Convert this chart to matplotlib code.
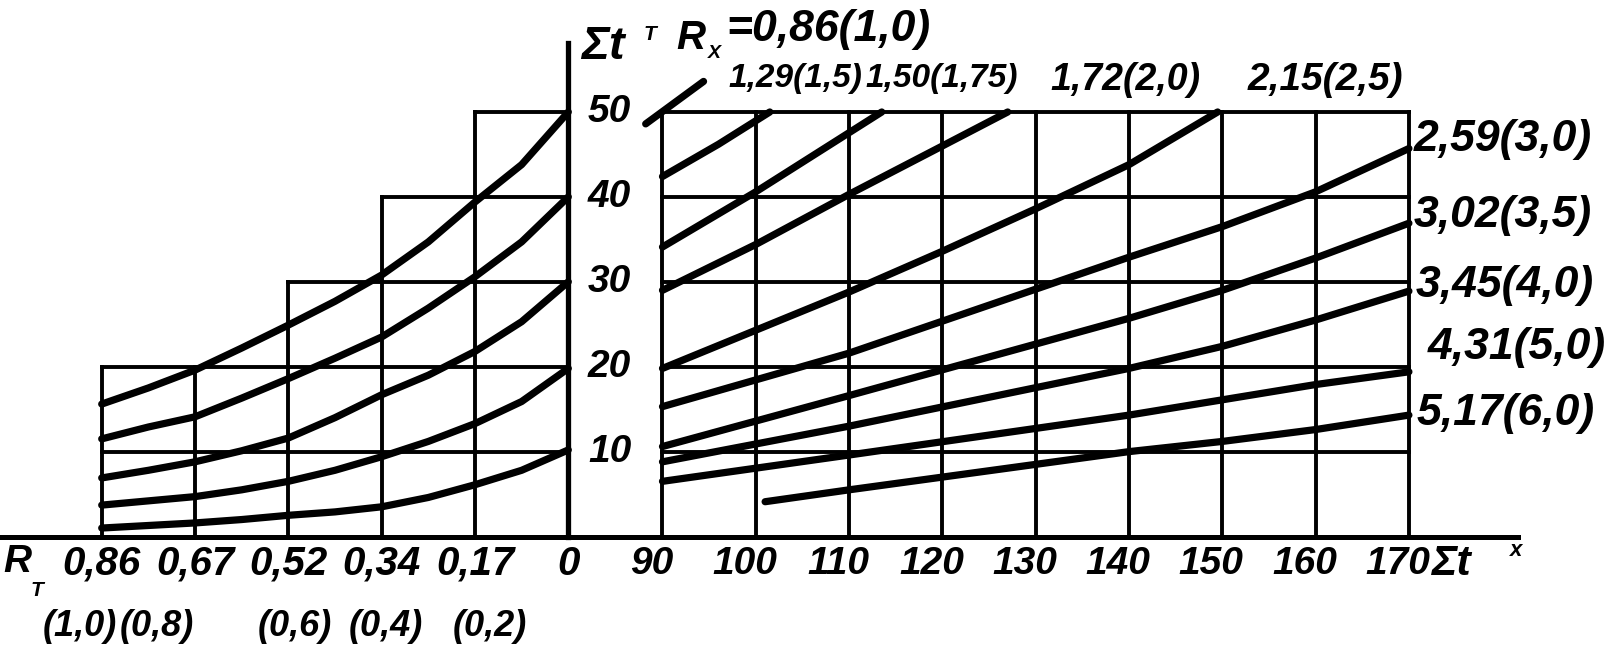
import matplotlib
matplotlib.use('Agg')
import matplotlib.pyplot as plt
from matplotlib.transforms import offset_copy

# ---- data ----
# left panel: R_T scale (positions are the bracketed values)
rt_pos = [1.0, 0.8, 0.6, 0.4, 0.2, 0.0]
rt_labels = ['0,86', '0,67', '0,52', '0,34', '0,17', '0']
rt_par_labels = ['(1,0)', '(0,8)', '(0,6)', '(0,4)', '(0,2)']
rt_col_top = [20, 20, 30, 40, 50]
levels = [10, 20, 30, 40, 50]

# left curves, sampled every 0.1 from 1.0 down to 0.0
curve_u = [1.0, 0.9, 0.8, 0.7, 0.6, 0.5, 0.4, 0.3, 0.2, 0.1, 0.0]
curve_50 = [15.6, 17.5, 19.6, 22.2, 24.9, 27.7, 30.8, 34.7, 39.4, 43.8, 50.0]
curve_40 = [11.5, 12.9, 14.1, 16.3, 18.6, 21.0, 23.5, 26.9, 30.6, 34.7, 40.0]
curve_30 = [6.9, 7.8, 8.8, 10.1, 11.6, 14.0, 16.7, 19.0, 21.8, 25.3, 30.0]
curve_20 = [3.7, 4.2, 4.7, 5.5, 6.5, 7.8, 9.4, 11.2, 13.3, 15.9, 19.8]
curve_10 = [1.0, 1.3, 1.6, 2.0, 2.5, 2.9, 3.5, 4.6, 6.1, 7.8, 10.2]
left_curves = [curve_50, curve_40, curve_30, curve_20, curve_10]

# right panel: sum t^x scale
tx_ticks = [90, 100, 110, 120, 130, 140, 150, 160, 170]

rx_086_x = [88.2, 94.4]
rx_086_y = [48.6, 53.6]
rx_129_x = [90, 96, 101.5]
rx_129_y = [42.4, 46.2, 50.0]
rx_150_x = [90, 100, 113.5]
rx_150_y = [34.1, 40.6, 50.0]
rx_172_x = [90, 100, 110, 120, 127]
rx_172_y = [29.0, 34.4, 40.3, 46.0, 50.0]
rx_215_x = [90, 110, 120, 130, 140, 149.5]
rx_215_y = [19.8, 28.8, 33.6, 38.6, 43.8, 50.0]
rx_259_x = [90, 110, 140, 150, 160, 170]
rx_259_y = [15.3, 21.6, 32.9, 36.5, 40.6, 45.7]
rx_302_x = [90, 110, 140, 150, 160, 170]
rx_302_y = [10.6, 16.6, 25.7, 29.0, 32.8, 36.9]
rx_345_x = [90, 110, 140, 150, 160, 170]
rx_345_y = [8.8, 13.0, 19.8, 22.4, 25.5, 28.9]
rx_431_x = [90, 110, 140, 150, 160, 170]
rx_431_y = [6.5, 9.6, 14.3, 16.1, 17.9, 19.4]
rx_517_x = [101, 110, 140, 150, 160, 170]
rx_517_y = [4.1, 5.5, 10.0, 11.2, 12.6, 14.3]
right_lines = [(rx_086_x, rx_086_y), (rx_129_x, rx_129_y), (rx_150_x, rx_150_y),
               (rx_172_x, rx_172_y), (rx_215_x, rx_215_y), (rx_259_x, rx_259_y),
               (rx_302_x, rx_302_y), (rx_345_x, rx_345_y), (rx_431_x, rx_431_y),
               (rx_517_x, rx_517_y)]

top_labels = ['1,29(1,5)', '1,50(1,75)', '1,72(2,0)', '2,15(2,5)']
side_labels = ['2,59(3,0)', '3,02(3,5)', '3,45(4,0)', '4,31(5,0)', '5,17(6,0)']

# ---- figure ----
W, H = 1604, 652
fig = plt.figure(figsize=(W / 100, H / 100), dpi=100)
FONT = ['Liberation Sans', 'DejaVu Sans']
TXT = dict(family=FONT, style='italic', weight='bold', color='black')


def px(x, y):
    return x / W, 1 - y / H


split = 615 / W
ax_l = fig.add_axes([0, 0, split, 1])
ax_r = fig.add_axes([split, 0, 1 - split, 1])
for ax in (ax_l, ax_r):
    ax.set_axis_off()
    ax.set_ylim(-13.6, 63.19)
ax_l.set_xlim(1.218, -0.1001)
ax_r.set_xlim(84.91, 190.91)

GRID = dict(color='black', lw=2.8, solid_capstyle='projecting')
CURVE = dict(color='black', lw=5.2, solid_capstyle='round')

# left grid (stepped)
for u, top in zip(rt_pos, rt_col_top):
    ax_l.plot([u, u], [0, top], **GRID)
for lev in levels:
    start = max(u for u, t in zip(rt_pos, rt_col_top) if t >= lev)
    ax_l.plot([start, rt_pos[-1]], [lev, lev], **GRID)

# vertical axis and baseline
ax_l.plot([0, 0], [0, 58.1], color='black', lw=3.8)
ax_l.axhline(0, color='black', lw=3.6)
ax_r.axhline(0, xmin=0, xmax=(181.7 - 84.91) / (190.91 - 84.91), color='black', lw=3.6)

# right grid
for v in tx_ticks:
    ax_r.plot([v, v], [0, 50], **GRID)
for lev in levels:
    ax_r.plot([tx_ticks[0], tx_ticks[-1]], [lev, lev], **GRID)

for ys in left_curves:
    ax_l.plot(curve_u, ys, **CURVE)
for xs, ys in right_lines:
    ax_r.plot(xs, ys, **CURVE)

# ---- text ----
for lev in levels:
    ax_l.text(-0.042, lev, str(lev), ha='left', va='center', fontsize=28, **TXT)

row2_dx = [-22, -38, 6, 4, 15]
for u, lab in zip(rt_pos, rt_labels):
    ax_l.text(u, -3.2, lab, ha='center', va='center', fontsize=29, **TXT)
for u, lab, dx in zip(rt_pos, rt_par_labels, row2_dx):
    tr = offset_copy(ax_l.transData, fig=fig, x=dx, y=0, units='dots')
    ax_l.text(u, -10.6, lab, ha='center', va='center', fontsize=26, transform=tr, **TXT)

tr_r = offset_copy(ax_r.transData, fig=fig, x=-11, y=0, units='dots')
for v in tx_ticks:
    ax_r.text(v, -3.2, str(v), ha='center', va='center', fontsize=28, transform=tr_r, **TXT)

fig.text(*px(3, 562), 'R', ha='left', va='center', fontsize=28, **TXT)
fig.text(*px(31, 590), 'T', ha='left', va='center', fontsize=15, **TXT)
fig.text(*px(1432, 564), 'Σt', ha='left', va='center', fontsize=31, **TXT)
fig.text(*px(1510, 551), 'x', ha='left', va='center', fontsize=16, **TXT)

fig.text(*px(581, 47), 'Σt', ha='left', va='center', fontsize=34, **TXT)
fig.text(*px(644, 35), 'T', ha='left', va='center', fontsize=15, **TXT)
fig.text(*px(676, 38), 'R', ha='left', va='center', fontsize=29, **TXT)
fig.text(*px(708, 54), 'X', ha='left', va='center', fontsize=14, **TXT)
fig.text(*px(726, 30), '=0,86(1,0)', ha='left', va='center', fontsize=32, **TXT)

for (x, y), lab, fs in zip([(795, 79), (942, 79), (1125, 80), (1325, 80)], top_labels,
                           [24, 24, 27, 28]):
    fig.text(*px(x, y), lab, ha='center', va='center', fontsize=fs, **TXT)
for (x, y), lab in zip([(1414, 140), (1414, 215), (1416, 286), (1428, 348), (1417, 413)],
                       side_labels):
    fig.text(*px(x, y), lab, ha='left', va='center', fontsize=32, **TXT)

fig.savefig('out.png', dpi=100)
